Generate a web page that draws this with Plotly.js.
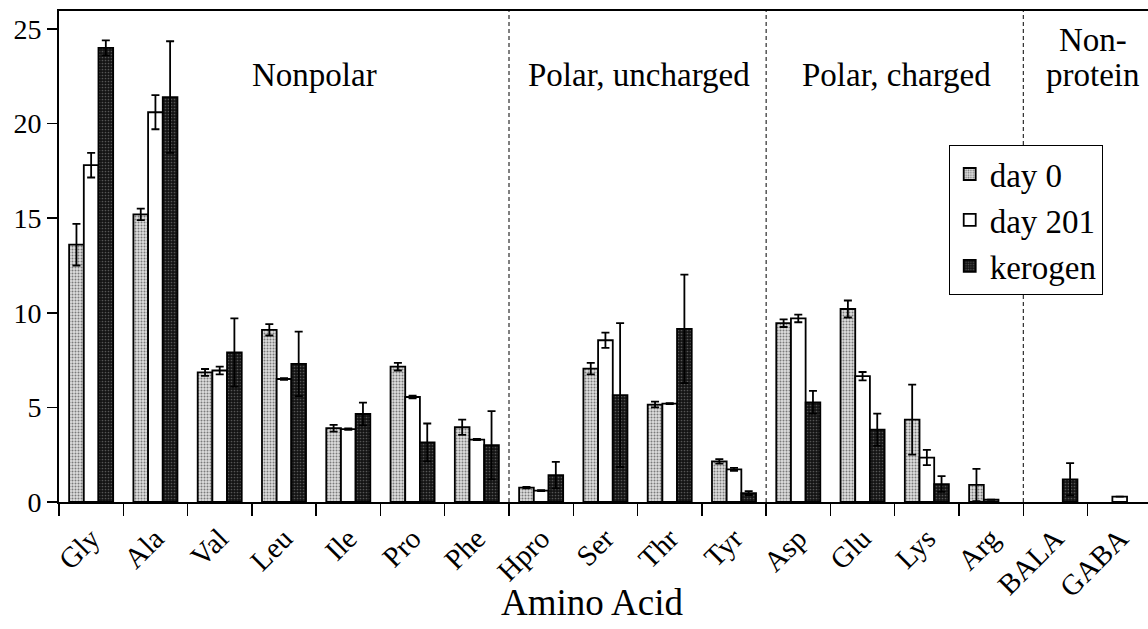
<!DOCTYPE html>
<html>
<head>
<meta charset="utf-8">
<script src="https://cdn.plot.ly/plotly-3.0.1.min.js"></script>
<style>html,body{margin:0;padding:0;background:#fff;}#chart{width:1148px;height:629px;}</style>
</head>
<body>
<div id="chart"></div>
<script>
const categories = ['Gly','Ala','Val','Leu','Ile','Pro','Phe','Hpro','Ser','Thr','Tyr','Asp','Glu','Lys','Arg','BALA','GABA'];
const day0      = [13.6, 15.2, 6.85, 9.1, 3.9, 7.15, 3.95, 0.76, 7.05, 5.15, 2.15, 9.45, 10.2, 4.35, 0.9, null, null];
const day0Err   = [1.1, 0.3, 0.18, 0.3, 0.18, 0.2, 0.4, 0.04, 0.3, 0.15, 0.12, 0.2, 0.45, 1.85, 0.85, 0, 0];
const day201    = [17.8, 20.6, 6.95, 6.5, 3.85, 5.55, 3.3, 0.6, 8.55, 5.2, 1.72, 9.7, 6.65, 2.35, 0.12, null, 0.28];
const day201Err = [0.65, 0.9, 0.2, 0.05, 0.04, 0.07, 0.03, 0.02, 0.4, 0.03, 0.08, 0.2, 0.22, 0.4, 0, 0, 0];
const kerogen   = [24.0, 21.4, 7.9, 7.3, 4.65, 3.15, 3.0, 1.42, 5.65, 9.15, 0.47, 5.27, 3.82, 0.95, null, 1.2, null];
const kerogenErr= [0.4, 2.95, 1.8, 1.7, 0.6, 1.0, 1.8, 0.7, 3.8, 2.87, 0.1, 0.6, 0.85, 0.42, 0, 0.85, 0];
const seriesNames = ['day 0', 'day 201', 'kerogen'];
const groupLabels = ['Nonpolar', 'Polar, uncharged', 'Polar, charged', 'Non-', 'protein'];
const dividerAfter = ['Phe', 'Tyr', 'Arg'];
const yTickVals = [0, 5, 10, 15, 20, 25];

const FONT = 'Liberation Serif, Times New Roman, serif';
const errStyle = {type:'data', visible:true, color:'#000', thickness:1.8, width:4};

const traces = [
  {type:'bar', name:seriesNames[0], x:categories, y:day0,
   error_y:Object.assign({array:day0Err}, errStyle),
   marker:{color:'#d0d0d0', line:{color:'#000', width:1.8},
           pattern:{shape:'.', fgcolor:'#7a7a7a', bgcolor:'#dedede', size:3, solidity:0.35}}},
  {type:'bar', name:seriesNames[1], x:categories, y:day201,
   error_y:Object.assign({array:day201Err}, errStyle),
   marker:{color:'#ffffff', line:{color:'#000', width:1.8}}},
  {type:'bar', name:seriesNames[2], x:categories, y:kerogen,
   error_y:Object.assign({array:kerogenErr}, errStyle),
   marker:{color:'#111', line:{color:'#000', width:1.8},
           pattern:{shape:'.', fgcolor:'#555', bgcolor:'#141414', size:3, solidity:0.25}}}
];

const shapes = dividerAfter.map(c => ({
  type:'line', xref:'x', yref:'paper',
  x0: categories.indexOf(c) + 0.5, x1: categories.indexOf(c) + 0.5, y0:0, y1:1,
  line:{color:'#000', width:1, dash:'4px,3px'}
}));

const annPos = [[3.48, 22.55], [8.52, 22.55], [12.53, 22.55], [15.58, 24.4], [15.58, 22.55]];
const annotations = groupLabels.map((t, i) => ({
  text:t, xref:'x', yref:'y', x:annPos[i][0], y:annPos[i][1], showarrow:false,
  xanchor:'center', yanchor:'middle', font:{family:FONT, size:33, color:'#000'}
}));
annotations.push({text:'Amino Acid', xref:'paper', yref:'paper', x:0.489, y:-0.205,
  showarrow:false, xanchor:'center', yanchor:'middle', font:{family:FONT, size:37, color:'#000'}});

const layout = {
  width:1148, height:629,
  margin:{l:59, r:0, t:11, b:127},
  paper_bgcolor:'#fff', plot_bgcolor:'#fff',
  barmode:'group', bargap:0.315, bargroupgap:0,
  showlegend:true,
  legend:{x:0.817, y:0.727, xanchor:'left', yanchor:'top', bgcolor:'#fff',
          bordercolor:'#000', borderwidth:1, font:{family:FONT, size:33, color:'#000'},
          traceorder:'normal', itemwidth:30},
  xaxis:{type:'category', range:[-0.5, 16.44], showline:true, linecolor:'#000', linewidth:2,
         mirror:true, ticks:'outside', tickson:'boundaries', ticklen:12, tickwidth:1.5,
         tickcolor:'#000', tickangle:-45, showgrid:false, zeroline:false,
         ticklabelstandoff:6,
         tickfont:{family:FONT, size:29, color:'#000'}},
  yaxis:{range:[0, 25.95], tickvals:yTickVals, tickmode:'array', ticksuffix:'\u00a0\u00a0',
         showline:true, linecolor:'#000', linewidth:2, ticks:'outside', ticklen:10,
         tickwidth:1.5, tickcolor:'#000', showgrid:false, zeroline:false,
         tickfont:{family:FONT, size:28, color:'#000'}},
  shapes:shapes,
  annotations:annotations,
  font:{family:FONT, color:'#000'}
};

Plotly.newPlot('chart', traces, layout, {displayModeBar:false, staticPlot:true});
</script>
</body>
</html>
